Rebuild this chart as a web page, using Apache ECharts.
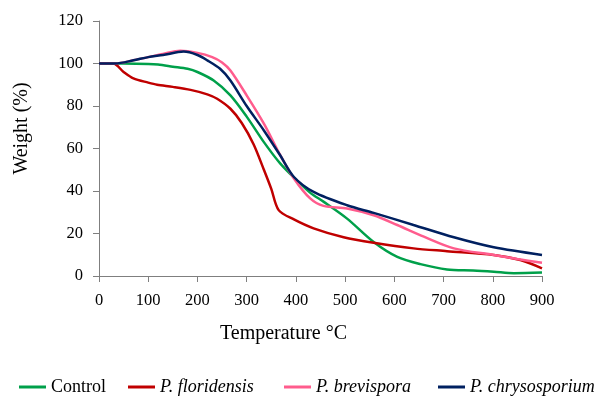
<!DOCTYPE html>
<html>
<head>
<meta charset="utf-8">
<script src="https://cdn.jsdelivr.net/npm/echarts@6/dist/echarts.min.js"></script>
<style>
  html, body { margin: 0; padding: 0; background: #fff; }
  #chart { width: 595px; height: 397px; }
</style>
</head>
<body>
<div id="chart"></div>
<script>
// temperature (°C) / weight (%)
const controlT = [0, 50, 100, 120, 150, 180, 200, 233, 267, 300, 335, 368, 402, 430, 456, 504, 558, 606, 653, 707, 760, 802, 843, 900];
const controlW = [100, 100, 99.8, 99.5, 98.5, 97.5, 96, 92, 85, 75, 63, 53, 45, 39, 35, 27, 16, 9, 5.6, 3.1, 2.6, 2.0, 1.3, 1.6];

const floridensisT = [0, 29, 50, 70, 100, 118, 150, 186, 220, 240, 267, 290, 314, 335, 350, 365, 396, 436, 497, 558, 639, 707, 802, 856, 900];
const floridensisW = [100, 100, 96, 93, 91, 90, 89, 87.6, 85.5, 83.4, 78.7, 72, 62, 50, 41, 31, 26.6, 22.4, 18.2, 15.6, 13, 11.7, 9.9, 7.5, 3.6];

const brevisporaT = [0, 33, 70, 100, 130, 165, 200, 230, 250, 267, 300, 335, 368, 396, 429, 456, 504, 558, 606, 660, 721, 802, 850, 900];
const brevisporaW = [100, 100, 101.5, 103, 104.5, 106, 105, 103, 100.5, 96.7, 85, 71.7, 57, 45.9, 36.5, 33, 31.8, 28.6, 24, 18.5, 13, 9.9, 8, 6.2];

const chrysosporiumT = [0, 33, 70, 100, 130, 172, 200, 220, 246, 267, 300, 335, 368, 396, 436, 504, 558, 639, 721, 802, 900];
const chrysosporiumW = [100, 100, 101.5, 103, 104, 105.6, 104, 101.5, 97.5, 92, 80, 68.5, 56.8, 46.6, 39.6, 33.3, 29.7, 24, 18.2, 13.5, 9.9];

const xTicks = [0, 900, 100];
const yTicks = [0, 120, 20];

const seriesDefs = [
  { name: "Control", t: controlT, w: controlW, color: "#00a04a", italic: false, left: 19 },
  { name: "P. floridensis", t: floridensisT, w: floridensisW, color: "#c00000", italic: true, left: 128 },
  { name: "P. brevispora", t: brevisporaT, w: brevisporaW, color: "#ff5c8d", italic: true, left: 284 },
  { name: "P. chrysosporium", t: chrysosporiumT, w: chrysosporiumW, color: "#002060", italic: true, left: 438 }
];

const font = "Liberation Serif";
const axisColor = "#7f7f7f";

const chart = echarts.init(document.getElementById("chart"));

const option = {
  animation: false,
  grid: { left: 99, right: 53, top: 21, bottom: 121 },
  legend: seriesDefs.map(s => ({
    data: [s.name],
    left: s.left,
    top: 378,
    padding: 0,
    icon: "rect",
    itemWidth: 27,
    itemHeight: 3,
    textStyle: {
      fontFamily: font,
      fontSize: 18,
      color: "#000",
      fontStyle: s.italic ? "italic" : "normal"
    }
  })),
  xAxis: {
    type: "value",
    min: xTicks[0],
    max: xTicks[1],
    interval: xTicks[2],
    name: "Temperature °C",
    nameLocation: "middle",
    nameGap: 48,
    // title sits left of the axis centre in the original
    nameTextStyle: { fontFamily: font, fontSize: 20, color: "#000", padding: [0, 74, 0, 0] },
    axisLine: { lineStyle: { color: axisColor, width: 1 } },
    axisTick: { length: 6, lineStyle: { color: axisColor } },
    axisLabel: { fontFamily: font, fontSize: 16.5, color: "#000", margin: 16 },
    splitLine: { show: false }
  },
  yAxis: {
    type: "value",
    min: yTicks[0],
    max: yTicks[1],
    interval: yTicks[2],
    name: "Weight (%)",
    nameLocation: "middle",
    nameGap: 67,
    nameTextStyle: { fontFamily: font, fontSize: 20, color: "#000", padding: [0, 0, 0, 40] },
    axisLine: { show: true, lineStyle: { color: axisColor, width: 1 } },
    axisTick: { show: true, length: 6, lineStyle: { color: axisColor } },
    axisLabel: { fontFamily: font, fontSize: 16.5, color: "#000", margin: 16 },
    splitLine: { show: false }
  },
  series: seriesDefs.map(s => ({
    name: s.name,
    type: "line",
    data: s.t.map((t, i) => [t, s.w[i]]),
    smooth: 0.3,
    symbol: "none",
    lineStyle: { color: s.color, width: 2.5 },
    itemStyle: { color: s.color }
  }))
};

chart.setOption(option);
</script>
</body>
</html>
